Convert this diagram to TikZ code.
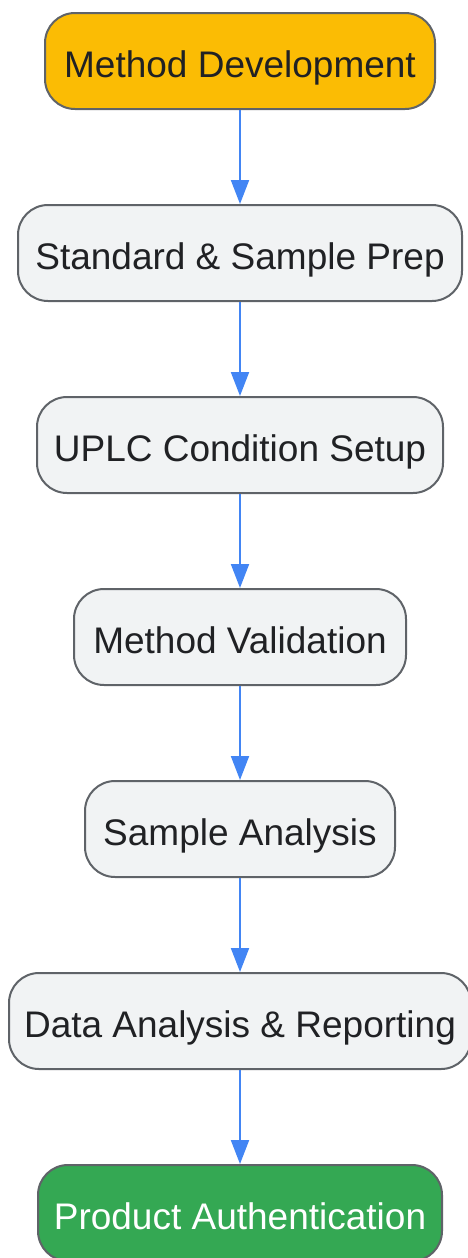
\documentclass[tikz,border=0pt]{standalone}
\usepackage{fontspec}
\setmainfont{Liberation Sans}
\usetikzlibrary{arrows.meta}
\definecolor{bordergray}{HTML}{5F6368}
\definecolor{boxgray}{HTML}{F1F3F4}
\definecolor{txtdark}{HTML}{202124}
\definecolor{gyellow}{HTML}{FBBC04}
\definecolor{ggreen}{HTML}{34A853}
\definecolor{gblue}{HTML}{4285F4}
\begin{document}
\begin{tikzpicture}[x=1pt,y=-1pt,
  stepbox/.style={draw=bordergray,line width=2pt,fill=boxgray,rounded corners=30pt,
    minimum height=96pt,inner sep=0pt,text=txtdark,text height=32pt,text depth=0pt,
    font=\fontsize{37}{44}\selectfont},
  flow/.style={draw=gblue,line width=2pt,-{Triangle[length=24pt,width=18pt]}}]
\useasboundingbox (0,0) rectangle (467,1258);
\node[stepbox,fill=gyellow,minimum width=390pt] (a) at (240,61) {Method Development};
\node[stepbox,minimum width=444pt] (b) at (240,253) {Standard \& Sample Prep};
\node[stepbox,minimum width=406pt] (c) at (240,445) {UPLC Condition Setup};
\node[stepbox,minimum width=332pt] (d) at (240,637) {Method Validation};
\node[stepbox,minimum width=310pt] (e) at (240,829) {Sample Analysis};
\node[stepbox,minimum width=462pt] (f) at (240,1021) {Data Analysis \& Reporting};
\node[stepbox,fill=ggreen,text=white,minimum width=404pt] (g) at (240,1213) {Product Authentication};
\draw[flow] (a) -- (b);
\draw[flow] (b) -- (c);
\draw[flow] (c) -- (d);
\draw[flow] (d) -- (e);
\draw[flow] (e) -- (f);
\draw[flow] (f) -- (g);
\end{tikzpicture}
\end{document}
